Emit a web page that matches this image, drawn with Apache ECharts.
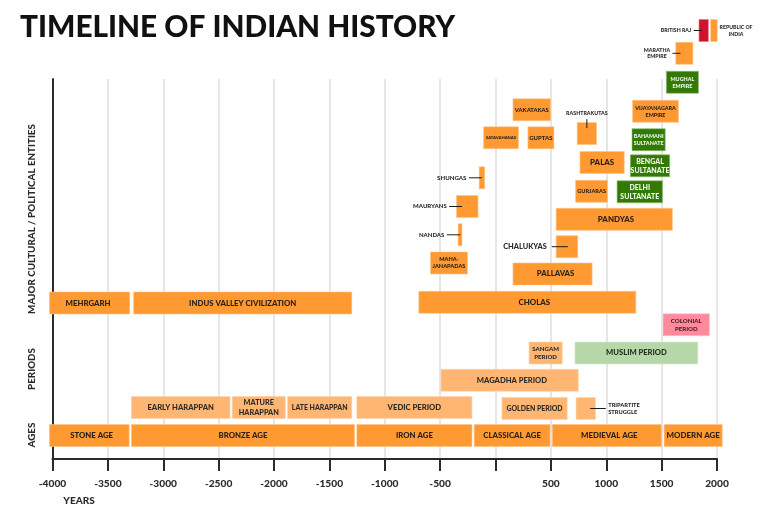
<!DOCTYPE html>
<html>
<head>
<meta charset="utf-8">
<script src="https://cdn.jsdelivr.net/npm/echarts@6/dist/echarts.min.js"></script>
<style>
html, body { margin: 0; padding: 0; background: #fff; }
#chart01 { width: 768px; height: 517px; }
</style>
</head>
<body>
<div id="chart01"></div>
<script>
var tickValues = [-4000, -3500, -3000, -2500, -2000, -1500, -1000, -500, 0, 500, 1000, 1500, 2000];
var tickLabels = ['-4000', '-3500', '-3000', '-2500', '-2000', '-1500', '-1000', '-500', '', '500', '1000', '1500', '2000'];

var names = [
    'STONE AGE', 'BRONZE AGE', 'IRON AGE', 'CLASSICAL AGE', 'MEDIEVAL AGE', 'MODERN AGE',
    'EARLY HARAPPAN', 'MATURE\nHARAPPAN', 'LATE HARAPPAN', 'VEDIC PERIOD', 'GOLDEN PERIOD', 'TRIPARTITE\nSTRUGGLE',
    'MAGADHA PERIOD', 'SANGAM\nPERIOD', 'MUSLIM PERIOD', 'COLONIAL\nPERIOD',
    'MEHRGARH', 'INDUS VALLEY CIVILIZATION', 'CHOLAS', 'PALLAVAS', 'MAHA-\nJANAPADAS', 'CHALUKYAS', 'NANDAS',
    'PANDYAS', 'MAURYANS', 'DELHI\nSULTANATE', 'GURJARAS', 'SHUNGAS', 'PALAS', 'BENGAL\nSULTANATE',
    'BAHAMANI\nSULTANATE', 'RASHTRAKUTAS', 'SATAVAHANAS', 'GUPTAS', 'VAKATAKAS', 'VIJAYANAGARA\nEMPIRE',
    'MUGHAL\nEMPIRE', 'MARATHA\nEMPIRE', 'BRITISH RAJ', 'REPUBLIC OF\nINDIA'
];
var startYears = [
    -4030, -3290, -1255, -195, 510, 1520,
    -3290, -2380, -1880, -1255, 55, 725,
    -495, 300, 715, 1510,
    -4030, -3270, -695, 155, -590, 545, -340,
    545, -355, 1095, 720, -150, 760, 1215,
    1230, 735, -110, 290, 155, 1235,
    1540, 1625, 1835, 1940
];
var endYears = [
    -3305, -1270, -210, 495, 1500, 2050,
    -2395, -1895, -1295, -210, 650, 905,
    750, 605, 1830, 1935,
    -3300, -1295, 1270, 875, -250, 745, -300,
    1600, -155, 1510, 1015, -95, 1165, 1575,
    1535, 915, 210, 530, 500, 1655,
    1835, 1785, 1925, 2005
];
// height of each bar's centre above the axis line
var tracks = [
    2.35, 2.35, 2.35, 2.35, 2.35, 2.35,
    5.15, 5.15, 5.15, 5.15, 5.05, 5.05,
    7.87, 10.6, 10.6, 13.42,
    15.6, 15.6, 15.67, 18.5, 19.6, 21.23, 22.42,
    23.97, 25.25, 26.72, 26.77, 28.12, 29.65, 29.32,
    31.93, 32.55, 32.12, 32.12, 34.92, 34.77,
    37.67, 40.57, 42.85, 42.85
];
var kinds = [
    'main', 'main', 'main', 'main', 'main', 'main',
    'soft', 'soft', 'soft', 'soft', 'soft', 'soft',
    'soft', 'soft', 'sage', 'pink',
    'main', 'main', 'main', 'main', 'main', 'main', 'main',
    'main', 'main', 'green', 'main', 'main', 'main', 'green',
    'green', 'main', 'main', 'main', 'main', 'main',
    'green', 'main', 'red', 'main'
];

var barColors = {
    main: ['#ff9a33', '#ffc48a', '#2b2118'],
    soft: ['#ffb673', '#ffd3a8', '#2e2a26'],
    sage: ['#b6d7a8', '#d6e8cd', '#24301f'],
    pink: ['#ff8a9c', '#ffc2cb', '#4a1a26'],
    green: ['#337a05', '#8fbb72', '#f1f5ec'],
    red: ['#d0122e', '#e5707f', '#222']
};
var fontSizes = {
    'PALAS': 7.9, 'PANDYAS': 7.9, 'CHOLAS': 7.9, 'PALLAVAS': 7.7, 'DELHI': 7, 'BENGAL': 7,
    'MUSLIM PERIOD': 7.6, 'MAGADHA PERIOD': 7.6, 'VEDIC PERIOD': 7.7, 'EARLY HARAPPAN': 7.6, 'MATURE': 7.3,
    'LATE HARAPPAN': 6.9, 'GOLDEN PERIOD': 6.9, 'CLASSICAL AGE': 7.8, 'MEDIEVAL AGE': 7.8, 'MODERN AGE': 7.9,
    'BRONZE AGE': 7.8, 'INDUS VALLEY CIVILIZATION': 7.8, 'GUPTAS': 6, 'VAKATAKAS': 5.8, 'GURJARAS': 5.6,
    'SATAVAHANAS': 4.2, 'BAHAMANI': 5.4, 'VIJAYANAGARA': 5.4, 'MUGHAL': 5.4, 'MAHA-': 5.6, 'SANGAM': 6.1, 'COLONIAL': 6.1,
    'CHALUKYAS': 7.4, 'SHUNGAS': 6.1, 'MAURYANS': 6, 'NANDAS': 6, 'TRIPARTITE': 5.7, 'RASHTRAKUTAS': 5.3,
    'MARATHA': 5.3, 'BRITISH RAJ': 5.2, 'REPUBLIC OF': 5.2
};
var labelShift = {
    'CHOLAS': 7, 'PALLAVAS': 3, 'MEDIEVAL AGE': 2.5, 'STONE AGE': 2.3, 'MAGADHA PERIOD': 2.3, 'PANDYAS': 1.7, 'MEHRGARH': -1.5
};
// labels that sit outside their bar, with the leader line lengths
var callouts = {
    'SHUNGAS': { side: 'left', out: 10, inner: 3 },
    'MAURYANS': { side: 'left', out: 7, inner: 6 },
    'NANDAS': { side: 'left', out: 11, inner: 2.5 },
    'CHALUKYAS': { side: 'left', out: 4, inner: 12, gap: 5 },
    'BRITISH RAJ': { side: 'left', out: 5, inner: 3 },
    'MARATHA': { side: 'left', out: 3, inner: 5, center: true },
    'TRIPARTITE': { side: 'right', out: 10, inner: 5.5 },
    'RASHTRAKUTAS': { side: 'top', out: 3, inner: 6 },
    'REPUBLIC OF': { side: 'right', out: 0, inner: 0, gap: 2.5, center: true }
};
var ink = '#2b2b2b';
var font = 'Lato, "Noto Sans", sans-serif';

var myChart = echarts.init(document.getElementById('chart01'));

function renderBar(params, api) {
    var i = api.value(4);
    var left = api.coord([api.value(0), api.value(2)]);
    var right = api.coord([api.value(1), api.value(2)]);
    var h = api.size([0, 2.26])[1];
    var x0 = left[0], x1 = right[0], yc = left[1];
    var name = names[i];
    var key = name.split('\n')[0];
    var colors = barColors[kinds[i]];
    var size = fontSizes[key] || 7.8;
    var call = callouts[key];
    var kids = [{
        type: 'rect',
        shape: { x: x0 + 0.3, y: yc - h / 2 + 0.3, width: x1 - x0 - 0.6, height: h - 0.6 },
        style: { fill: colors[0], stroke: colors[1], lineWidth: 0.6 }
    }];
    var textStyle = {
        text: name, font: '900 ' + size + 'px ' + font, lineHeight: size * 1.3,
        fill: colors[2], x: (x0 + x1) / 2 + (labelShift[key] || 0), y: yc, align: 'center', verticalAlign: 'middle'
    };
    if (call) {
        var gap = call.gap === undefined ? 2.5 : call.gap;
        var a, b;
        textStyle.fill = ink;
        if (call.side === 'left') {
            a = [x0 - call.out, yc]; b = [x0 + call.inner, yc];
            textStyle.x = a[0] - gap;
            textStyle.align = call.center ? 'center' : 'right';
            if (call.center) textStyle.x -= 13;
        } else if (call.side === 'right') {
            a = [x1 - call.inner, yc]; b = [x1 + call.out, yc];
            textStyle.x = b[0] + gap;
            textStyle.align = call.center ? 'center' : 'left';
            if (call.center) textStyle.x += 16;
        } else {
            var xm = (x0 + x1) / 2;
            a = [xm, yc - h / 2 - call.out]; b = [xm, yc - h / 2 + call.inner];
            textStyle.y = a[1] - 6;
        }
        if (call.out > 0) {
            kids.push({
                type: 'line',
                shape: { x1: a[0], y1: a[1], x2: b[0], y2: b[1] },
                style: { stroke: '#1c1c1c', lineWidth: 1 }
            });
        }
    }
    kids.push({ type: 'text', style: textStyle });
    return { type: 'group', children: kids };
}

function sideText(text, y, size) {
    return {
        type: 'text', x: 32, y: y, rotation: Math.PI / 2,
        style: { text: text, font: '900 ' + (size || 9.8) + 'px ' + font, fill: ink, align: 'center', verticalAlign: 'middle' }
    };
}

var option = {
    animation: false,
    title: {
        text: 'TIMELINE OF INDIAN HISTORY',
        left: 15,
        top: 7,
        textStyle: { fontFamily: font, fontWeight: 900, fontSize: 29.8, color: '#111' }
    },
    grid: { left: 52.5, right: 51, top: 79, bottom: 58 },
    xAxis: {
        type: 'value',
        min: -4000,
        max: 2000,
        interval: 500,
        axisLine: { onZero: false, lineStyle: { color: ink, width: 2 } },
        axisTick: { show: true, length: 12, lineStyle: { color: ink, width: 2 } },
        splitLine: { show: true, lineStyle: { color: '#e6e6e6', width: 2 } },
        axisLabel: {
            margin: 20,
            fontFamily: font,
            fontWeight: 900,
            fontSize: 10.2,
            color: ink,
            formatter: function (v) { return tickLabels[tickValues.indexOf(v)]; }
        }
    },
    yAxis: {
        type: 'value',
        min: 0,
        max: 38,
        axisLine: { show: true, onZero: false, lineStyle: { color: ink, width: 2 } },
        axisTick: { show: false },
        axisLabel: { show: false },
        splitLine: { show: false }
    },
    graphic: [
        sideText('AGES', 435),
        sideText('PERIODS', 369),
        sideText('MAJOR CULTURAL / POLITICAL ENTITIES', 219),
        {
            type: 'text', x: 79, y: 501,
            style: { text: 'YEARS', font: '900 10px ' + font, fill: ink, align: 'center', verticalAlign: 'middle' }
        }
    ],
    series: [{
        type: 'custom',
        renderItem: renderBar,
        encode: { x: [0, 1], y: 2 },
        data: names.map(function (n, i) {
            return [startYears[i], endYears[i], tracks[i], n, i];
        })
    }]
};
myChart.setOption(option, true);
</script>
</body>
</html>
